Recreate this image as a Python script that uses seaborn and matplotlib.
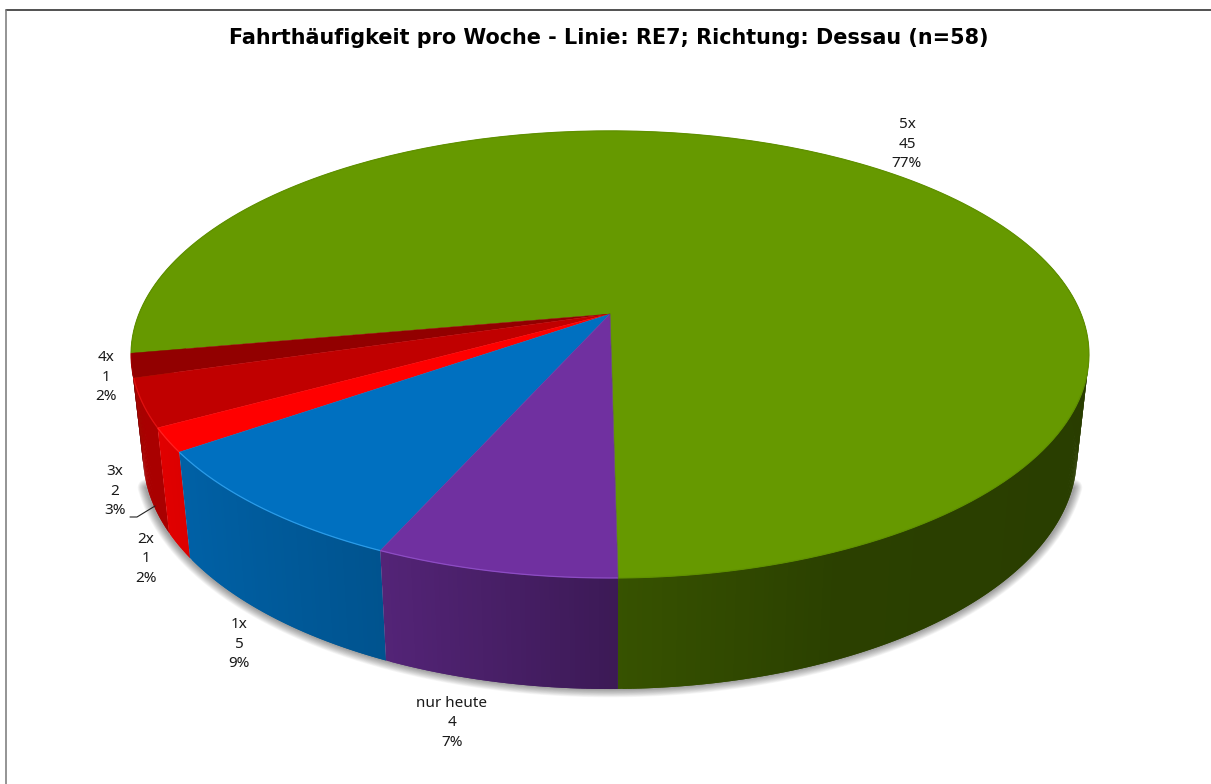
"""
Fahrthaeufigkeit pro Woche - tilted 3D pie built from polygons.
matplotlib has no real 3D pie, so the circle gets a simple perspective projection.
"""

import numpy as np
import matplotlib
matplotlib.use("Agg")
import matplotlib.pyplot as plt
import seaborn as sns

sns.set_theme(style="white")
plt.rcParams["font.family"] = ["Noto Sans", "DejaVu Sans"]

TITLE = "Fahrthäufigkeit pro Woche - Linie: RE7; Richtung: Dessau (n=58)"
CATEGORIES = ["5x", "4x", "3x", "2x", "1x", "nur heute"]
COUNTS = [45, 1, 2, 1, 5, 4]
PERCENT_LABELS = ["77%", "2%", "3%", "2%", "9%", "7%"]
COLORS = ["#669900", "#920000", "#c00000", "#ff0000", "#0070c0", "#7030a0"]
RIM_COLORS = ["#5f9000", "#a00000", "#e01010", "#ff2020", "#2a9be8", "#8d4cc4"]

# label centres in pixels
LABEL_POS = [(907, 144), (106, 377), (115, 491), (146, 559), (239, 644), (452, 723)]

# projection settings, all in pixels
CX, CY = 610, 314
SCALE_X, SCALE_Y = 471, 216.2
PERSP = 0.181
DEPTH, DEPTH_PERSP = 99.6, 0.103
BOTTOM_SHRINK = 0.975
START_DEG = 0.8


def top_xy(a):
    """Angle in radians, measured from the front of the pie, to top face pixels."""
    u, v = np.sin(a), -np.cos(a)
    w = 1 + PERSP * v
    return CX + SCALE_X * u / w, CY - SCALE_Y * v / w


def bottom_xy(a):
    x, y = top_xy(a)
    v = -np.cos(a)
    return CX + (x - CX) * BOTTOM_SHRINK, y + DEPTH / (1 + DEPTH_PERSP * v)


def wall_shade(a):
    # walls get darker from the left of the pie towards the right
    return np.interp(np.sin(a), [-1, -0.88, -0.4, 0, 0.4, 1], [0.88, 0.88, 0.74, 0.54, 0.42, 0.40])


def draw_shadow(ax):
    a = np.radians(np.linspace(-72, 72, 300))
    x, y = bottom_xy(a)
    # side shadow is wider than the one under the front edge
    x = CX + (x - CX) * 1.003
    for lw in np.arange(1, 13, 1.0):
        ax.plot(x, y, color="black", alpha=0.035, lw=lw, solid_capstyle="round", zorder=1)


def draw_walls(ax, edges):
    for (a0, a1), color in zip(edges, palette):
        steps = np.radians(np.arange(a0, a1 + 0.5, 0.5))
        steps[-1] = min(steps[-1], np.radians(a1))
        for i in range(len(steps) - 1):
            s0, s1 = steps[i], steps[min(i + 2, len(steps) - 1)]
            if np.cos(s0) < -0.25 and np.cos(s1) < -0.25:
                continue  # back of the pie is hidden
            x0, y0 = top_xy(s0)
            x1, y1 = top_xy(s1)
            x2, y2 = bottom_xy(s1)
            x3, y3 = bottom_xy(s0)
            wall = tuple(np.array(color) * wall_shade(steps[i]))
            # each quad overlaps the next one so no seams show
            ax.fill([x0, x1, x2, x3], [y0, y1, y2, y3], color=wall, lw=0, zorder=2)


def draw_top(ax, edges):
    for (a0, a1), color, rim in zip(edges, palette, RIM_COLORS):
        a = np.radians(np.linspace(a0, a1, 200))
        x, y = top_xy(a)
        ax.fill(np.r_[CX, x], np.r_[CY, y], color=color, lw=0.3, zorder=3)
        ax.plot(x, y, color=rim, lw=0.9, zorder=4, solid_capstyle="butt")
    # faint seam where the purple and green slices meet
    x, y = top_xy(np.radians(edges[0][0]))
    ax.plot([CX, x], [CY, y], color="#555555", alpha=0.35, lw=0.8, zorder=4)


def main():
    fig = plt.figure(figsize=(12.11, 7.84), dpi=100)
    ax = fig.add_axes([0, 0, 1, 1])
    ax.set_xlim(0, 1211)
    ax.set_ylim(784, 0)
    ax.axis("off")

    sweep = np.array(COUNTS) / sum(COUNTS) * 360
    stops = START_DEG + np.r_[0, np.cumsum(sweep)]
    edges = list(zip(stops[:-1], stops[1:]))

    draw_shadow(ax)
    draw_walls(ax, edges)
    draw_top(ax, edges)

    # chart frame, only top and left are visible
    ax.plot([6, 1211], [10, 10], color="#222222", lw=1.1, zorder=5)
    ax.plot([6, 6], [10, 784], color="#777777", lw=1.1, zorder=5)

    ax.text(609, 38, TITLE, ha="center", va="center", fontsize=14.93,
            fontweight="bold", family="DejaVu Sans", color="black")

    for name, count, pct, (x, y) in zip(CATEGORIES, COUNTS, PERCENT_LABELS, LABEL_POS):
        ax.text(x, y, f"{name}\n{count}\n{pct}", ha="center", va="center",
                fontsize=11, linespacing=1.37, color="#1a1a1a", zorder=6)

    # leader line of the 3x label
    ax.plot([130, 137, 155], [517, 517, 506], color="#222222", lw=0.8, zorder=6)

    fig.savefig("out.png", dpi=100)


palette = sns.color_palette(COLORS)

if __name__ == "__main__":
    main()
